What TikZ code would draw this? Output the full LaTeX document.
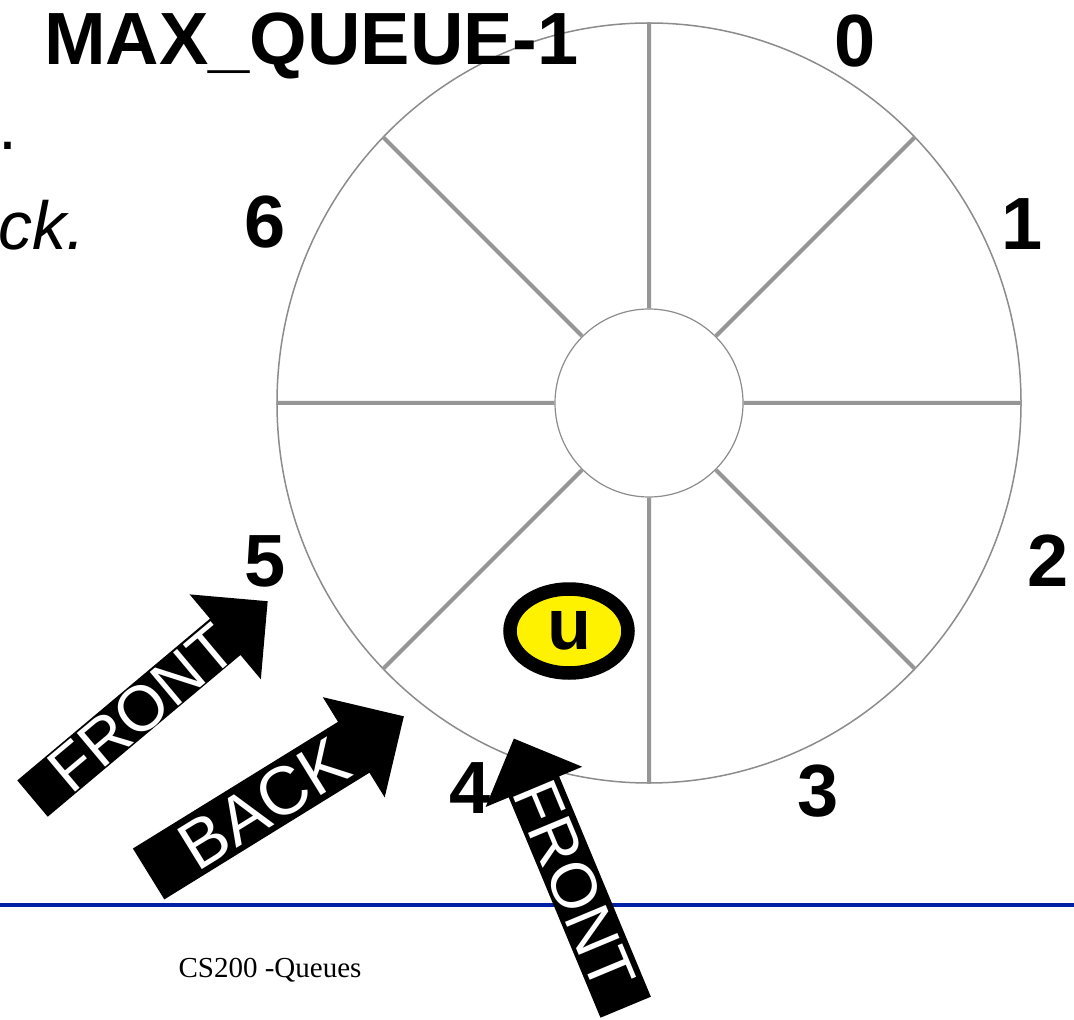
\documentclass[tikz,border=0pt]{standalone}
\usepackage{fontspec}
\setmainfont{Liberation Serif}
\setsansfont{Liberation Sans}
\usetikzlibrary{positioning,shapes.geometric,shapes.arrows}
\definecolor{spokegray}{RGB}{150,150,150}
\definecolor{rimgray}{RGB}{140,140,140}
\definecolor{slideblue}{RGB}{0,32,165}
\tikzset{x=0.5pt, y=-0.5pt, on grid,
every node/.style={inner sep=0pt},
qnum/.style={font=\sffamily\bfseries\fontsize{37}{37}\selectfont,text height=26.5pt,text depth=0pt}, % the slot numbers round the ring
spoke/.style={draw=spokegray,line width=2pt},
item/.style={ellipse,draw=black,line width=6.75pt,fill=yellow,minimum width=59pt,minimum height=42pt,
  font=\sffamily\bfseries\fontsize{36}{36}\selectfont,text height=18.7pt,text depth=0pt}, % an element stored in a slot
blockarrow/.style={single arrow,fill=black,text=white,single arrow tip angle=90,inner xsep=2pt,text depth=0pt},
%every edge/.style = {font=\large}
}

\begin{document}
\begin{tikzpicture}
    \useasboundingbox (0,0) rectangle (1074,1020);
    \clip (0,0) rectangle (1074,1020);

    \node[ellipse,draw=rimgray,line width=0.75pt,fill=white,minimum width=372pt,minimum height=380pt] (ring) at (649,403) {};
    \node[circle,draw=rimgray,line width=0.6pt,fill=white,minimum size=94pt] (hub) at (649,403) {};
    \draw[spoke] (hub.90) -- (ring.90)
                 (hub.45) -- (ring.45)
                 (hub.0) -- (ring.0)
                 (hub.-45) -- (ring.-45)
                 (hub.-90) -- (ring.-90)
                 (hub.-135) -- (ring.-135)
                 (hub.180) -- (ring.180)
                 (hub.135) -- (ring.135);

    \node[qnum,above left=182.25pt and 168.75pt of hub] (Lmax) {MAX\_QUEUE-1};
    \node[qnum,above right=181.5pt and 103pt of hub] (L0) {0};
    \node[qnum,above right=90pt and 186.5pt of hub] (L1) {1};
    \node[qnum,below right=78.5pt and 199.5pt of hub] (L2) {2};
    \node[qnum,below right=193.5pt and 84.5pt of hub] (L3) {3};
    \node[qnum,below left=192pt and 89.5pt of hub] (L4) {4};
    \node[qnum,below left=78.5pt and 192pt of hub] (L5) {5};
    \node[qnum,above left=90.75pt and 192pt of hub] (L6) {6};

    \node[item,below left=114pt and 40pt of hub] (U) {u};

    \coordinate (RuleL) at (0,905);
    \coordinate (RuleR) at (1074,905);
    \draw[slideblue,line width=1.75pt] (RuleL) -- (RuleR);

    \node[blockarrow,rotate=40,below left=152.25pt and 254pt of hub,minimum height=153.5pt,
          font=\sffamily\fontsize{32}{32}\selectfont,text height=22.9pt,inner ysep=0.2pt,single arrow head extend=15.85pt] (Front1) {FRONT};
    \node[blockarrow,rotate=31.7,below left=200pt and 192.75pt of hub,minimum height=150pt,
          font=\sffamily\fontsize{34}{34}\selectfont,text height=24.3pt,inner ysep=2.6pt,single arrow head extend=14.5pt] (Back) {BACK};
    \node[blockarrow,rotate=-67.4,shape border rotate=180,below left=241.25pt and 37pt of hub,minimum height=145.5pt,
          font=\sffamily\fontsize{32}{32}\selectfont,text height=22.9pt,inner ysep=2pt,single arrow head extend=12.5pt] (Front2) {FRONT};

    \node[anchor=base,font=\fontsize{14.5}{14.5}\selectfont] (Footer) at (270,977) {CS200 -Queues};
    \node[anchor=base west,font=\sffamily\fontsize{34}{34}\selectfont] (Frag1) at (-2,150) {.};
    \node[anchor=base west,font=\sffamily\itshape\fontsize{34}{34}\selectfont] (Frag2) at (-2,250) {ck.};
\end{tikzpicture}
\end{document}
